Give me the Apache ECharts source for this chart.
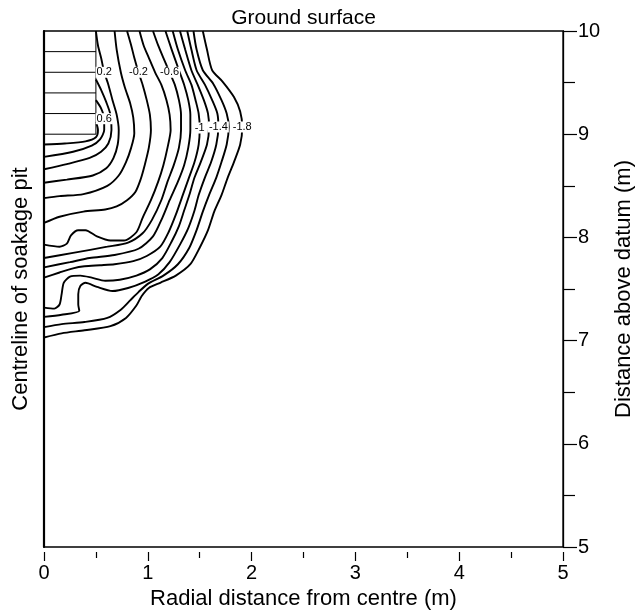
<!DOCTYPE html>
<html>
<head>
<meta charset="utf-8">
<title>Pressure head around a soakage pit</title>
<script src="https://cdn.jsdelivr.net/npm/echarts@6/dist/echarts.min.js"></script>
<style>
  html, body { margin: 0; padding: 0; background: #fff; }
  #chart { width: 637px; height: 614px; }
</style>
</head>
<body>
<div id="chart"></div>
<script>
// Axis ranges (m)
const radialRange = [0, 5];
const heightRange = [5, 10];

// Soakage pit: radius and the water-level lines drawn inside it
const pitRadius = 0.5;
const pitBottom = 9.0;
const pitLevels = [9.0, 9.2, 9.4, 9.6, 9.8];

// Pressure-head contours, [radial distance, height above datum]
const h08 = [[0.50,9.12],[0.52,9.04],[0.50,8.97],[0.40,8.93],[0.20,8.91],[0.00,8.90]];
const h06 = [[0.50,9.33],[0.55,9.25],[0.58,9.15],[0.58,9.04],[0.54,8.95],[0.46,8.89],[0.28,8.83],[0.00,8.78]];
const h04 = [[0.50,9.53],[0.55,9.43],[0.60,9.31],[0.64,9.19],[0.65,9.04],[0.62,8.91],[0.55,8.83],[0.44,8.77],[0.22,8.71],[0.00,8.66]];
const h02 = [[0.50,10.00],[0.52,9.86],[0.55,9.74],[0.58,9.60],[0.62,9.48],[0.66,9.33],[0.70,9.19],[0.72,9.04],[0.71,8.90],[0.67,8.77],[0.60,8.67],[0.47,8.60],[0.22,8.56],[0.00,8.53]];
const h00 = [[0.68,10.00],[0.70,9.82],[0.74,9.60],[0.78,9.45],[0.83,9.30],[0.86,9.16],[0.87,9.01],[0.84,8.87],[0.79,8.73],[0.72,8.60],[0.61,8.50],[0.38,8.42],[0.15,8.40],[0.00,8.38]];
const hm02 = [[0.80,10.00],[0.84,9.86],[0.87,9.74],[0.91,9.60],[0.95,9.48],[0.99,9.33],[1.02,9.19],[1.03,9.04],[1.01,8.87],[0.97,8.70],[0.93,8.56],[0.88,8.44],[0.80,8.36],[0.70,8.30],[0.59,8.27],[0.38,8.25],[0.15,8.20],[0.00,8.14]];
const hm04 = [[0.92,10.00],[0.96,9.86],[1.01,9.74],[1.07,9.60],[1.13,9.48],[1.18,9.33],[1.21,9.19],[1.22,9.04],[1.19,8.87],[1.15,8.70],[1.10,8.54],[1.03,8.36],[0.95,8.19],[0.89,8.05],[0.77,7.97],[0.64,7.97],[0.51,8.01],[0.40,8.07],[0.33,8.07],[0.26,8.02],[0.22,7.94],[0.15,7.91],[0.00,7.93]];
const hm06 = [[1.05,10.00],[1.10,9.86],[1.15,9.74],[1.21,9.60],[1.26,9.48],[1.30,9.33],[1.32,9.19],[1.32,9.04],[1.30,8.87],[1.25,8.70],[1.19,8.54],[1.13,8.36],[1.04,8.17],[0.95,8.04],[0.81,7.95],[0.61,7.91],[0.28,7.85],[0.00,7.80]];
const hm08 = [[1.17,10.00],[1.23,9.82],[1.30,9.62],[1.35,9.48],[1.39,9.33],[1.41,9.19],[1.41,9.04],[1.39,8.87],[1.35,8.70],[1.29,8.54],[1.21,8.36],[1.14,8.19],[1.05,8.01],[0.91,7.89],[0.68,7.83],[0.44,7.80],[0.25,7.76],[0.00,7.71]];
const hm10 = [[1.24,10.00],[1.29,9.82],[1.36,9.62],[1.42,9.48],[1.46,9.33],[1.49,9.20],[1.50,9.06],[1.49,8.90],[1.45,8.73],[1.39,8.56],[1.33,8.39],[1.27,8.22],[1.20,8.05],[1.12,7.91],[0.99,7.82],[0.86,7.77],[0.68,7.74],[0.54,7.73],[0.39,7.72],[0.28,7.70],[0.15,7.66],[0.00,7.61]];
const hm12 = [[1.31,10.00],[1.36,9.82],[1.42,9.62],[1.48,9.48],[1.54,9.33],[1.58,9.20],[1.59,9.07],[1.57,8.90],[1.51,8.73],[1.45,8.58],[1.40,8.41],[1.35,8.26],[1.30,8.11],[1.23,7.96],[1.14,7.80],[1.02,7.69],[0.89,7.63],[0.73,7.59],[0.59,7.58],[0.46,7.61],[0.35,7.63],[0.25,7.62],[0.19,7.56],[0.17,7.45],[0.15,7.35],[0.10,7.31],[0.00,7.32]];
const hm14 = [[1.38,10.00],[1.42,9.82],[1.47,9.62],[1.55,9.48],[1.62,9.33],[1.67,9.20],[1.68,9.07],[1.66,8.90],[1.61,8.73],[1.55,8.58],[1.49,8.41],[1.45,8.26],[1.39,8.09],[1.31,7.93],[1.21,7.76],[1.10,7.64],[0.97,7.57],[0.81,7.51],[0.66,7.48],[0.51,7.52],[0.40,7.56],[0.35,7.53],[0.33,7.45],[0.33,7.35],[0.34,7.29],[0.17,7.25],[0.00,7.23]];
const hm16 = [[1.44,10.00],[1.47,9.82],[1.53,9.62],[1.63,9.49],[1.71,9.33],[1.76,9.20],[1.78,9.07],[1.76,8.90],[1.71,8.73],[1.66,8.58],[1.59,8.41],[1.53,8.25],[1.47,8.07],[1.40,7.90],[1.29,7.74],[1.15,7.63],[1.00,7.55],[0.91,7.47],[0.83,7.39],[0.74,7.30],[0.61,7.22],[0.39,7.18],[0.17,7.16],[0.00,7.13]];
const hm18 = [[1.53,10.00],[1.57,9.82],[1.62,9.62],[1.72,9.51],[1.83,9.36],[1.89,9.22],[1.91,9.07],[1.89,8.90],[1.83,8.73],[1.77,8.58],[1.71,8.41],[1.64,8.25],[1.58,8.07],[1.50,7.90],[1.41,7.74],[1.27,7.63],[1.12,7.56],[1.01,7.51],[0.94,7.43],[0.89,7.34],[0.79,7.22],[0.64,7.14],[0.39,7.10],[0.17,7.07],[0.00,7.03]];

const contourLevels = [0.8, 0.6, 0.4, 0.2, 0, -0.2, -0.4, -0.6, -0.8, -1.0, -1.2, -1.4, -1.6, -1.8];
const contourLines  = [h08, h06, h04, h02, h00, hm02, hm04, hm06, hm08, hm10, hm12, hm14, hm16, hm18];
// index of the point on each contour that carries its value label (null = unlabelled)
const labelPointIndex = [null, 2, null, 3, null, 3, null, 3, null, 6, null, 6, null, 6];

const FONT = "'Liberation Sans', Arial, Helvetica, sans-serif";
const LABEL_FONT = "'Liberation Sans Narrow', 'Liberation Sans', Arial, sans-serif";

const chart = echarts.init(document.getElementById('chart'), null, { renderer: 'canvas' });

const contourSeries = contourLines.map((pts, i) => {
  const level = contourLevels[i];
  const li = labelPointIndex[i];
  const data = pts.map((p, k) => {
    if (k !== li) return p;
    return {
      value: p,
      symbol: 'circle',
      symbolSize: 1,
      itemStyle: { color: '#fff' },
      label: {
        show: true,
        position: 'inside',
        formatter: () => String(level),
        fontFamily: LABEL_FONT,
        fontSize: 11,
        color: '#000',
        backgroundColor: '#fff',
        padding: [0, 1]
      }
    };
  });
  return {
    name: 'h = ' + level + ' m',
    type: 'line',
    data: data,
    symbol: 'none',
    smooth: 0.25,
    z: li === null ? 2 : 3,
    lineStyle: { color: '#000', width: 1.9 },
    emphasis: { disabled: true },
    silent: true
  };
});

const pitSeries = [];
pitLevels.forEach(lvl => {
  pitSeries.push({
    type: 'line',
    data: [[radialRange[0], lvl], [pitRadius, lvl]],
    symbol: 'none',
    lineStyle: { color: '#000', width: 1 },
    silent: true
  });
});
pitSeries.push({
  type: 'line',
  data: [[pitRadius, heightRange[1]], [pitRadius, pitBottom]],
  symbol: 'none',
  lineStyle: { color: '#000', width: 1 },
  silent: true
});

const option = {
  animation: false,
  backgroundColor: '#fff',
  grid: {
    left: 44, right: 74, top: 31, bottom: 67,
    containLabel: false,
    outerBoundsMode: 'none',
    show: true, borderColor: '#000', borderWidth: 1.3, backgroundColor: 'transparent'
  },
  xAxis: [
    {
      type: 'value', position: 'bottom',
      min: radialRange[0], max: radialRange[1], interval: 1,
      offset: 5,
      axisLine: { show: false, onZero: false },
      axisTick: { show: true, length: 9, lineStyle: { color: '#000', width: 1.2 } },
      minorTick: { show: true, splitNumber: 2, length: 6, lineStyle: { color: '#000', width: 1.2 } },
      splitLine: { show: false },
      axisLabel: { color: '#000', fontFamily: FONT, fontSize: 20, margin: 11 },
      name: 'Radial distance from centre (m)',
      nameLocation: 'middle', nameGap: 30,
      nameTextStyle: { color: '#000', fontFamily: FONT, fontSize: 22 }
    },
    {
      type: 'value', position: 'top',
      min: radialRange[0], max: radialRange[1],
      axisLine: { show: false, onZero: false }, axisTick: { show: false },
      axisLabel: { show: false }, splitLine: { show: false },
      name: 'Ground surface',
      nameLocation: 'middle', nameGap: 2,
      nameTextStyle: { color: '#000', fontFamily: FONT, fontSize: 21 }
    }
  ],
  yAxis: [
    {
      type: 'value', position: 'right',
      min: heightRange[0], max: heightRange[1], interval: 1,
      axisLine: { show: true, onZero: false, lineStyle: { color: '#000', width: 1.3 } },
      axisTick: { show: true, length: 14, lineStyle: { color: '#000', width: 1.2 } },
      minorTick: { show: true, splitNumber: 2, length: 12, lineStyle: { color: '#000', width: 1.2 } },
      splitLine: { show: false },
      axisLabel: { color: '#000', fontFamily: FONT, fontSize: 20, margin: 15 },
      name: 'Distance above datum (m)',
      nameLocation: 'middle', nameGap: 50, nameRotate: 90,
      nameTextStyle: { color: '#000', fontFamily: FONT, fontSize: 22 }
    },
    {
      type: 'value', position: 'left',
      min: heightRange[0], max: heightRange[1],
      axisLine: { show: true, onZero: false, lineStyle: { color: '#000', width: 2.2 } },
      axisTick: { show: false }, minorTick: { show: false },
      axisLabel: { show: false }, splitLine: { show: false },
      name: 'Centreline of soakage pit',
      nameLocation: 'middle', nameGap: 12, nameRotate: 90,
      nameTextStyle: { color: '#000', fontFamily: FONT, fontSize: 22 }
    }
  ],
  series: pitSeries.concat(contourSeries)
};

chart.setOption(option);
</script>
</body>
</html>
